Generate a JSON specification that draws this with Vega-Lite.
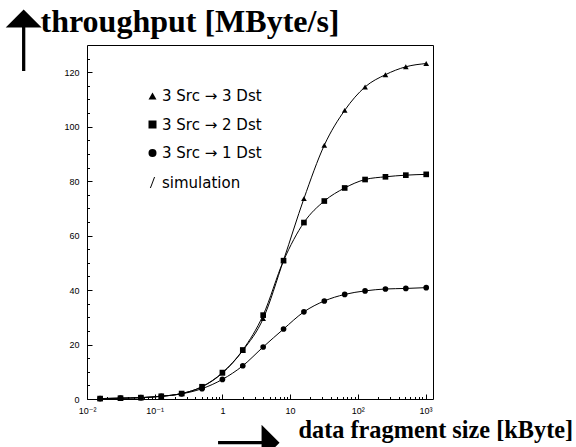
{
  "$schema": "https://vega.github.io/schema/vega-lite/v6.json",
  "width": 346,
  "height": 354,
  "autosize": {"type": "none"},
  "padding": {"left": 87, "top": 45, "right": 143, "bottom": 48},
  "background": "white",
  "config": {
    "view": {"stroke": "black", "strokeWidth": 1},
    "axis": {"grid": false, "domain": false, "tickColor": "black", "labelColor": "black", "titleColor": "black", "labelFont": "Liberation Sans, DejaVu Sans", "labelFontSize": 9, "tickWidth": 1}
  },
  "data": {"values": [
    {"series": "3 Src → 3 Dst", "size": 0.015625, "throughput": 0.15},
    {"series": "3 Src → 3 Dst", "size": 0.03125, "throughput": 0.3},
    {"series": "3 Src → 3 Dst", "size": 0.0625, "throughput": 0.5},
    {"series": "3 Src → 3 Dst", "size": 0.125, "throughput": 1.0},
    {"series": "3 Src → 3 Dst", "size": 0.25, "throughput": 2.0},
    {"series": "3 Src → 3 Dst", "size": 0.5, "throughput": 4.5},
    {"series": "3 Src → 3 Dst", "size": 1, "throughput": 9.5},
    {"series": "3 Src → 3 Dst", "size": 2, "throughput": 17.8},
    {"series": "3 Src → 3 Dst", "size": 4, "throughput": 29.5},
    {"series": "3 Src → 3 Dst", "size": 8, "throughput": 51.0},
    {"series": "3 Src → 3 Dst", "size": 16, "throughput": 73.6},
    {"series": "3 Src → 3 Dst", "size": 32, "throughput": 93.2},
    {"series": "3 Src → 3 Dst", "size": 64, "throughput": 106.0},
    {"series": "3 Src → 3 Dst", "size": 128, "throughput": 114.6},
    {"series": "3 Src → 3 Dst", "size": 256, "throughput": 119.1},
    {"series": "3 Src → 3 Dst", "size": 512, "throughput": 122.0},
    {"series": "3 Src → 3 Dst", "size": 1024, "throughput": 123.2},
    {"series": "3 Src → 2 Dst", "size": 0.015625, "throughput": 0.15},
    {"series": "3 Src → 2 Dst", "size": 0.03125, "throughput": 0.3},
    {"series": "3 Src → 2 Dst", "size": 0.0625, "throughput": 0.5},
    {"series": "3 Src → 2 Dst", "size": 0.125, "throughput": 1.0},
    {"series": "3 Src → 2 Dst", "size": 0.25, "throughput": 2.0},
    {"series": "3 Src → 2 Dst", "size": 0.5, "throughput": 4.5},
    {"series": "3 Src → 2 Dst", "size": 1, "throughput": 9.7},
    {"series": "3 Src → 2 Dst", "size": 2, "throughput": 18.0},
    {"series": "3 Src → 2 Dst", "size": 4, "throughput": 30.8},
    {"series": "3 Src → 2 Dst", "size": 8, "throughput": 50.8},
    {"series": "3 Src → 2 Dst", "size": 16, "throughput": 64.8},
    {"series": "3 Src → 2 Dst", "size": 32, "throughput": 72.7},
    {"series": "3 Src → 2 Dst", "size": 64, "throughput": 77.5},
    {"series": "3 Src → 2 Dst", "size": 128, "throughput": 80.6},
    {"series": "3 Src → 2 Dst", "size": 256, "throughput": 81.6},
    {"series": "3 Src → 2 Dst", "size": 512, "throughput": 82.2},
    {"series": "3 Src → 2 Dst", "size": 1024, "throughput": 82.5},
    {"series": "3 Src → 1 Dst", "size": 0.015625, "throughput": 0.15},
    {"series": "3 Src → 1 Dst", "size": 0.03125, "throughput": 0.3},
    {"series": "3 Src → 1 Dst", "size": 0.0625, "throughput": 0.5},
    {"series": "3 Src → 1 Dst", "size": 0.125, "throughput": 1.0},
    {"series": "3 Src → 1 Dst", "size": 0.25, "throughput": 1.9},
    {"series": "3 Src → 1 Dst", "size": 0.5, "throughput": 3.8},
    {"series": "3 Src → 1 Dst", "size": 1, "throughput": 7.2},
    {"series": "3 Src → 1 Dst", "size": 2, "throughput": 12.2},
    {"series": "3 Src → 1 Dst", "size": 4, "throughput": 19.1},
    {"series": "3 Src → 1 Dst", "size": 8, "throughput": 25.7},
    {"series": "3 Src → 1 Dst", "size": 16, "throughput": 32.0},
    {"series": "3 Src → 1 Dst", "size": 32, "throughput": 36.0},
    {"series": "3 Src → 1 Dst", "size": 64, "throughput": 38.4},
    {"series": "3 Src → 1 Dst", "size": 128, "throughput": 39.7},
    {"series": "3 Src → 1 Dst", "size": 256, "throughput": 40.4},
    {"series": "3 Src → 1 Dst", "size": 512, "throughput": 40.6},
    {"series": "3 Src → 1 Dst", "size": 1024, "throughput": 40.9}
  ]},
  "layer": [
    {
      "mark": {"type": "line", "interpolate": "monotone", "color": "black", "strokeWidth": 1},
      "encoding": {
        "x": {"field": "size", "type": "quantitative",
          "scale": {"type": "log", "domain": [0.01, 1290], "nice": false},
          "axis": {"orient": "bottom", "offset": -5, "values": [0.01, 0.1, 1, 10, 100, 1000],
            "labelExpr": "datum.value < 0.05 ? '10⁻²' : datum.value < 0.5 ? '10⁻¹' : datum.value < 5 ? '1' : datum.value < 50 ? '10' : datum.value < 500 ? '10²' : '10³'",
            "tickSize": 5, "labelPadding": 7, "labelFlush": false, "labelOverlap": false,
            "title": "data fragment size [kByte]", "titleFont": "Liberation Serif", "titleFontWeight": "bold", "titleFontSize": 24.3,
            "titleAngle": 0, "titleAlign": "left", "titleBaseline": "alphabetic", "titleX": 211, "titleY": 43}},
        "y": {"field": "throughput", "type": "quantitative",
          "scale": {"domain": [0, 130], "nice": false, "zero": true},
          "axis": {"orient": "left", "offset": -5, "values": [0, 20, 40, 60, 80, 100, 120],
            "tickSize": 5, "labelPadding": 8, "labelFlush": false, "labelOverlap": false,
            "title": "throughput [MByte/s]", "titleFont": "Liberation Serif", "titleFontWeight": "bold", "titleFontSize": 32,
            "titleAngle": 0, "titleAlign": "left", "titleBaseline": "alphabetic", "titleX": -52, "titleY": -14}},
        "detail": {"field": "series"}
      }
    },
    {
      "mark": {"type": "point", "filled": true, "color": "black", "size": 32, "opacity": 1},
      "encoding": {
        "x": {"field": "size", "type": "quantitative",
          "scale": {"type": "log", "domain": [0.01, 1290], "nice": false},
          "axis": {"orient": "bottom", "offset": -2.5, "values": [0.02, 0.03, 0.04, 0.05, 0.06, 0.07, 0.08, 0.09, 0.2, 0.3, 0.4, 0.5, 0.6, 0.7, 0.8, 0.9, 2, 3, 4, 5, 6, 7, 8, 9, 20, 30, 40, 50, 60, 70, 80, 90, 200, 300, 400, 500, 600, 700, 800, 900],
            "labels": false, "tickSize": 2.5,
            "title": "➝", "titleFont": "DejaVu Sans", "titleFontWeight": "normal", "titleFontSize": 84,
            "titleAngle": 0, "titleAlign": "center", "titleBaseline": "middle", "titleX": 161, "titleY": 46.5}},
        "y": {"field": "throughput", "type": "quantitative",
          "scale": {"domain": [0, 130], "nice": false, "zero": true},
          "axis": {"orient": "left", "offset": -2.5, "values": [5, 10, 15, 25, 30, 35, 45, 50, 55, 65, 70, 75, 85, 90, 95, 105, 110, 115, 125],
            "labels": false, "tickSize": 2.5,
            "title": "➝", "titleFont": "DejaVu Sans", "titleFontWeight": "normal", "titleFontSize": 84,
            "titleAngle": 270, "titleAlign": "center", "titleBaseline": "middle", "titleX": -65.5, "titleY": -5}},
        "shape": {"field": "series", "type": "nominal",
          "scale": {"domain": ["3 Src → 3 Dst", "3 Src → 2 Dst", "3 Src → 1 Dst", "simulation"],
                    "range": ["triangle-up", "square", "circle", "M-0.65,1.35L-0.4,1.35L0.65,-1.35L0.4,-1.35Z"]},
          "legend": {"orient": "none", "legendX": 58, "legendY": 43.5, "title": null, "padding": 0,
            "labelFont": "DejaVu Sans", "labelFontSize": 15, "labelColor": "black", "labelOffset": 2,
            "symbolSize": 64, "rowPadding": 12.5,
            "encode": {"symbols": {"update": {"fill": {"value": "#333"}, "stroke": {"value": "black"}, "strokeWidth": {"value": 0.6}, "opacity": {"value": 1}}}}}}
      }
    }
  ],
  "resolve": {"axis": {"x": "independent", "y": "independent"}}
}
